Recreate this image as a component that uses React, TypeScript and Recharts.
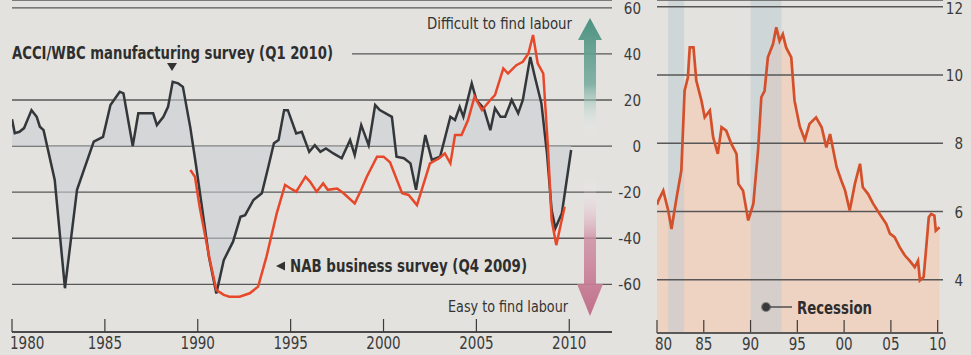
import React from "react";
import {
  ComposedChart,
  Area,
  Line,
  XAxis,
  YAxis,
  CartesianGrid,
  ReferenceArea,
} from "recharts";

// ACCI/WBC manufacturing survey, net balance
const acciYears = [
  1980.0, 1980.15, 1980.4, 1980.65, 1981.05, 1981.33, 1981.5, 1981.7, 1982.3, 1982.85,
  1983.5, 1984.4, 1984.9, 1985.3, 1985.8, 1986.0, 1986.5, 1986.8, 1987.6, 1987.8,
  1988.15, 1988.4, 1988.65, 1988.95, 1989.2, 1989.6, 1989.9, 1990.2, 1990.6, 1991.0,
  1991.4, 1991.9, 1992.3, 1992.55, 1993.0, 1993.45, 1993.8, 1994.1, 1994.35, 1994.65,
  1994.85, 1995.3, 1995.6, 1996.0, 1996.3, 1996.6, 1996.9, 1997.3, 1997.75, 1998.2,
  1998.45, 1998.8, 1999.2, 1999.55, 1999.8, 2000.45, 2000.7, 2001.1, 2001.45, 2001.75,
  2002.25, 2002.6, 2003.05, 2003.6, 2003.85, 2004.1, 2004.3, 2004.75, 2005.0, 2005.4,
  2005.75, 2006.0, 2006.3, 2006.55, 2006.9, 2007.25, 2007.5, 2007.9, 2008.15, 2008.5,
  2008.8, 2009.05, 2009.25, 2009.6, 2010.1,
];
const acciValues = [
  11.6, 5.6, 6.2, 7.8, 15.6, 12.7, 8.4, 6.9, -14.7, -61.7,
  -19, 1.9, 4, 17.8, 23.6, 22.9, 0, 14.2, 14.2, 9.1,
  12.7, 17, 27.9, 27.2, 25.7, 8, -8, -25, -48, -64,
  -49.5, -41.5, -30.7, -30, -23.4, -20.5, -9, 1.2, 2.6, 15.6,
  15.6, 5.5, 6.2, -2.5, 0.4, -2.5, -1, -3.2, -5.3, 2.6,
  -3.9, 9.1, 0.4, 17.8, 15.6, 12.7, -4.6, -5.3, -7.5, -19,
  4.8, -6, -4.6, 12.7, 11.3, 17, 12.7, 27.2, 20, 16.4,
  6.9, 16.4, 12.7, 12.7, 20, 14.2, 20, 38.7, 30, 18.5,
  -3.2, -27.8, -35.7, -29.2, -1.7,
];

// NAB business survey
const nabYears = [
  1989.6, 1989.85, 1990.1, 1990.65, 1991.0, 1991.4, 1991.7, 1992.25, 1992.8, 1993.25,
  1993.7, 1994.25, 1994.7, 1995.0, 1995.3, 1995.8, 1996.05, 1996.4, 1996.75, 1997.0,
  1997.5, 1997.85, 1998.45, 1998.8, 1999.1, 1999.65, 2000.0, 2000.35, 2001.0, 2001.35,
  2001.8, 2002.5, 2003.0, 2003.3, 2003.6, 2003.85, 2004.2, 2004.55, 2004.9, 2005.3,
  2005.75, 2006.0, 2006.45, 2006.7, 2007.15, 2007.5, 2007.8, 2008.05, 2008.3, 2008.6,
  2008.85, 2009.05, 2009.3, 2009.75,
];
const nabValues = [
  -10.4, -13.3, -26.3, -49.5, -62.5, -64.6, -65.4, -65.4, -63.9, -61,
  -48, -29.2, -16.9, -18.4, -19.8, -13.3, -15.5, -19.8, -16.2, -19,
  -18.4, -20.5, -24.9, -19, -13.3, -4.6, -4.6, -7, -20.5, -21.2,
  -25.6, -7.5, -5.3, -3.2, -7.5, 4.8, 4.8, 11.3, 21.4, 15.6,
  20, 22.1, 33.7, 31.5, 35.1, 36.6, 40.2, 48.2, 35.9, 31.5,
  -0.3, -32, -43, -26.3,
];

// unemployment rate, %
const unempYears = [
  1980.0, 1980.15, 1980.67, 1981.2, 1981.55, 1982.1, 1982.6, 1982.95, 1983.3, 1983.5,
  1983.9, 1984.2, 1984.75, 1985.1, 1985.65, 1986.0, 1986.5, 1986.9, 1987.4, 1987.95,
  1988.5, 1988.7, 1989.2, 1989.75, 1990.3, 1990.8, 1991.15, 1991.5, 1991.85, 1992.4,
  1992.75, 1993.1, 1993.45, 1993.8, 1994.35, 1994.7, 1995.25, 1995.8, 1996.3, 1997.0,
  1997.6, 1998.1, 1998.5, 1999.2, 1999.7, 2000.1, 2000.6, 2001.15, 2001.7, 2002.0,
  2002.55, 2003.1, 2003.8, 2004.5, 2004.9, 2005.4, 2005.95, 2006.5, 2007.0, 2007.55,
  2007.9, 2008.1, 2008.5, 2008.75, 2009.05, 2009.3, 2009.65, 2009.8, 2010.2,
];
const unempValues = [
  6.2, 6.32, 6.61, 6.03, 5.49, 6.42, 7.2, 9.54, 9.93, 10.81,
  10.81, 9.84, 9.25, 8.76, 8.96, 8.18, 7.69, 8.47, 8.37, 7.98,
  7.69, 6.81, 6.61, 5.74, 6.23, 7.79, 9.35, 9.54, 10.52, 10.91,
  11.4, 11.0, 11.2, 10.81, 10.52, 9.25, 8.5, 8.1, 8.57, 8.76,
  8.47, 7.88, 8.27, 7.3, 6.91, 6.62, 6.03, 6.81, 7.4, 6.71,
  6.52, 6.23, 5.93, 5.64, 5.35, 5.25, 4.95, 4.71, 4.56, 4.37,
  4.56, 3.98, 4.08, 4.86, 5.83, 5.93, 5.88, 5.44, 5.54,
];

const surveyTicks = [-60, -40, -20, 0, 20, 40, 60];
const unempTicks = [4, 6, 8, 10, 12];
const yearTicks = [1980, 1985, 1990, 1995, 2000, 2005, 2010];
const longYearLabels = ["1980", "1985", "1990", "1995", "2000", "2005", "2010"];
const shortYearLabels = ["80", "85", "90", "95", "00", "05", "10"];
const recessions = [
  { from: 1981.2, to: 1982.9 },
  { from: 1990.0, to: 1993.3 },
];

const acciData = acciYears.map((year, i) => ({ year, acci: acciValues[i] }));
const nabData = nabYears.map((year, i) => ({ year, nab: nabValues[i] }));
const unempData = unempYears.map((year, i) => ({ year, rate: unempValues[i] }));

const FONT = "'Liberation Sans Narrow', 'DejaVu Sans Condensed', 'Arial Narrow', sans-serif";
const INK = "#3b3b3b";
const GRID = "#575757";
const BG = "#e3e2df";

const UNEMP_DOMAIN: [number, number] = [2.44, 12.2];
const UNEMP_YEARS: [number, number] = [1980, 2010.57];

const textWidth = (s: string) =>
  s.split("").reduce((w, c) => w + (c === "-" ? 5.5 : 8.6), 0);

const NoTick = () => <g />;

function YearTick(props: any) {
  const { x, y, payload, labels } = props;
  const i = yearTicks.indexOf(payload.value);
  const label = labels[i];
  const first = i === 0;
  return (
    <g>
      <line x1={x} x2={x} y1={y - 13} y2={y} stroke={INK} strokeWidth={1.2} />
      <text
        x={first ? x - 2 : x}
        y={y + 17}
        textAnchor={first ? "start" : "middle"}
        fontFamily={FONT}
        fontSize={17}
        fill={INK}
        textLength={textWidth(label)}
        lengthAdjust="spacingAndGlyphs"
      >
        {label}
      </text>
    </g>
  );
}

function ValueTick(props: any) {
  const { x, y, payload, shift } = props;
  const label = String(payload.value);
  return (
    <text
      x={x + shift}
      y={Math.max(y + 6, 14)}
      textAnchor="end"
      fontFamily={FONT}
      fontSize={16}
      fill={INK}
      textLength={textWidth(label)}
      lengthAdjust="spacingAndGlyphs"
    >
      {label}
    </text>
  );
}

function Overlay() {
  const bold = { fontFamily: FONT, fontWeight: 700, fill: "#2e2e2e" } as const;
  return (
    <svg
      width={971}
      height={355}
      style={{ position: "absolute", left: 0, top: 0, pointerEvents: "none" }}
    >
      <defs>
        <linearGradient id="upArrow" x1="0" y1="0" x2="0" y2="1">
          <stop offset="0" stopColor="#4c9280" />
          <stop offset="0.55" stopColor="#73a99b" stopOpacity={0.85} />
          <stop offset="1" stopColor="#ffffff" stopOpacity={0} />
        </linearGradient>
        <linearGradient id="downArrow" x1="0" y1="0" x2="0" y2="1">
          <stop offset="0" stopColor="#ffffff" stopOpacity={0} />
          <stop offset="0.45" stopColor="#cf8fa4" stopOpacity={0.85} />
          <stop offset="1" stopColor="#c06f8b" />
        </linearGradient>
      </defs>

      {/* label box hides the 40 gridline */}
      <rect x={8} y={44} width={344} height={20} fill={BG} />
      <text x={12} y={59} fontSize={17} textLength={321} lengthAdjust="spacingAndGlyphs" {...bold}>
        ACCI/WBC manufacturing survey (Q1 2010)
      </text>
      <polygon points="167,63 177,63 172,71" fill="#333" />

      <polygon points="276,266 285,261.5 285,270.5" fill="#333" />
      <text x={290} y={272} fontSize={17} textLength={237} lengthAdjust="spacingAndGlyphs" {...bold}>
        NAB business survey (Q4 2009)
      </text>

      <text x={427} y={29} fontFamily={FONT} fontSize={16} fill="#333" textLength={145} lengthAdjust="spacingAndGlyphs">
        Difficult to find labour
      </text>
      <text x={448} y={312} fontFamily={FONT} fontSize={16} fill="#333" textLength={120} lengthAdjust="spacingAndGlyphs">
        Easy to find labour
      </text>

      <path d="M590 18 L602 40 L596 40 L596 138 L584 138 L584 40 L578 40 Z" fill="url(#upArrow)" />
      <path d="M584 177 L596 177 L596 284 L603 284 L590 316 L577 284 L584 284 Z" fill="url(#downArrow)" />

      {/* recession key */}
      <circle cx={766} cy={307} r={4.5} fill="#3a3a3a" stroke="#8a8a8a" strokeWidth={1.2} />
      <line x1={770} x2={792} y1={307} y2={307} stroke="#3a3a3a" strokeWidth={1.3} />
      <text x={797} y={314} fontSize={17} textLength={75} lengthAdjust="spacingAndGlyphs" {...bold}>
        Recession
      </text>
    </svg>
  );
}

export default function App() {
  return (
    <div
      style={{
        position: "absolute",
        left: 0,
        top: 0,
        width: 971,
        height: 355,
        background: BG,
        overflow: "hidden",
      }}
    >
      {/* labour survey panel */}
      <div style={{ position: "absolute", left: 0, top: 0 }}>
        <ComposedChart width={650} height={355} margin={{ top: 0, right: 0, bottom: 0, left: 12 }}>
          <XAxis
            type="number"
            dataKey="year"
            domain={[1980, 2012.3]}
            ticks={yearTicks}
            interval={0}
            allowDataOverflow
            height={23}
            axisLine={{ stroke: INK, strokeWidth: 1.4 }}
            tickLine={false}
            tickSize={0}
            tickMargin={0}
            tick={(p: any) => <YearTick {...p} labels={longYearLabels} />}
          />
          <YAxis
            orientation="right"
            domain={[-80.7, 63.4]}
            ticks={surveyTicks}
            interval={0}
            allowDataOverflow
            width={38}
            axisLine={false}
            tickLine={false}
            tickSize={0}
            tickMargin={0}
            tick={(p: any) => <ValueTick {...p} shift={29} />}
          />
          <CartesianGrid vertical={false} stroke={GRID} strokeWidth={1.3} />
          <Area
            data={acciData}
            dataKey="acci"
            type="linear"
            baseValue={0}
            fill="#c9ced3"
            fillOpacity={0.6}
            stroke="none"
            isAnimationActive={false}
          />
          <Line
            data={acciData}
            dataKey="acci"
            type="linear"
            stroke="#33373a"
            strokeWidth={2.5}
            dot={false}
            isAnimationActive={false}
          />
          <Line
            data={nabData}
            dataKey="nab"
            type="linear"
            stroke="#e8482a"
            strokeWidth={2.5}
            dot={false}
            isAnimationActive={false}
          />
        </ComposedChart>
      </div>

      {/* unemployment panel: fill and recession bands */}
      <div style={{ position: "absolute", left: 645, top: 0 }}>
        <ComposedChart width={326} height={355} margin={{ top: 0, right: 0, bottom: 0, left: 12 }}>
          <XAxis
            type="number"
            dataKey="year"
            domain={UNEMP_YEARS}
            ticks={yearTicks}
            interval={0}
            allowDataOverflow
            height={22}
            axisLine={{ stroke: INK, strokeWidth: 1.4 }}
            tickLine={false}
            tickSize={0}
            tickMargin={0}
            tick={(p: any) => <YearTick {...p} labels={shortYearLabels} />}
          />
          <YAxis
            orientation="right"
            domain={UNEMP_DOMAIN}
            ticks={unempTicks}
            interval={0}
            allowDataOverflow
            width={28}
            axisLine={false}
            tickLine={false}
            tickSize={0}
            tickMargin={0}
            tick={(p: any) => <ValueTick {...p} shift={20} />}
          />
          <Area
            data={unempData}
            dataKey="rate"
            type="linear"
            fill="#efd2c0"
            fillOpacity={0.95}
            stroke="none"
            isAnimationActive={false}
          />
          {recessions.map((r) => (
            <ReferenceArea
              key={r.from}
              x1={r.from}
              x2={r.to}
              fill="#bcc9d2"
              fillOpacity={0.5}
              stroke="none"
            />
          ))}
        </ComposedChart>
      </div>

      {/* unemployment panel: gridlines and line on top */}
      <div style={{ position: "absolute", left: 645, top: 0 }}>
        <ComposedChart width={326} height={355} margin={{ top: 0, right: 0, bottom: 0, left: 12 }}>
          <XAxis
            type="number"
            dataKey="year"
            domain={UNEMP_YEARS}
            ticks={yearTicks}
            interval={0}
            allowDataOverflow
            height={22}
            axisLine={false}
            tickLine={false}
            tickSize={0}
            tick={NoTick}
          />
          <YAxis
            orientation="right"
            domain={UNEMP_DOMAIN}
            ticks={unempTicks}
            interval={0}
            allowDataOverflow
            width={28}
            axisLine={false}
            tickLine={false}
            tickSize={0}
            tick={NoTick}
          />
          <CartesianGrid vertical={false} stroke={GRID} strokeWidth={1.4} />
          <Line
            data={unempData}
            dataKey="rate"
            type="linear"
            stroke="#d4502b"
            strokeWidth={2.7}
            dot={false}
            isAnimationActive={false}
          />
        </ComposedChart>
      </div>

      <Overlay />
    </div>
  );
}
